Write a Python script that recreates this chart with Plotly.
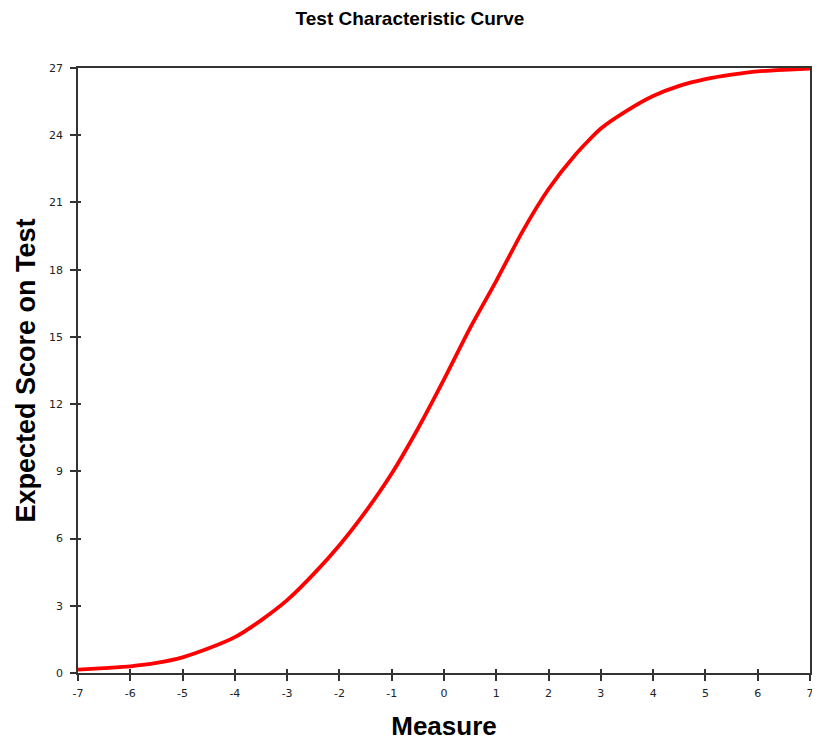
import plotly.graph_objects as go

measure = [-7, -6.5, -6, -5.5, -5, -4.5, -4, -3.5, -3, -2.5, -2, -1.5, -1, -0.5,
           0, 0.5, 1, 1.5, 2, 2.5, 3, 3.5, 4, 4.5, 5, 5.5, 6, 6.5, 7]
expected = [0.15, 0.22, 0.3, 0.45, 0.7, 1.1, 1.6, 2.35, 3.25, 4.4, 5.7, 7.2, 8.9, 10.9,
            13.1, 15.4, 17.5, 19.7, 21.6, 23.1, 24.3, 25.1, 25.75, 26.2, 26.5, 26.7, 26.85, 26.92, 26.97]
x_ticks = list(range(-7, 8))
x_labels = [str(v) for v in x_ticks]
y_ticks = list(range(0, 28, 3))

FONT = "Liberation Sans, Arial, sans-serif"
TICKFONT = "DejaVu Sans, Verdana, sans-serif"

W = 804
H = 733

fig = go.Figure()
fig.add_trace(go.Scatter(x=measure, y=expected, mode="lines",
                         line=dict(color="#ff0000", width=3.8, shape="spline", smoothing=0.6),
                         showlegend=False, hoverinfo="skip", cliponaxis=False))
# invisible trace on overlay axes to draw inward tick halves
fig.add_trace(go.Scatter(x=[-7, 7], y=[0, 27], xaxis="x2", yaxis="y2", mode="markers",
                         marker=dict(opacity=0), showlegend=False, hoverinfo="skip"))

axis_common = dict(showgrid=False, zeroline=False, linecolor="#333333", linewidth=1.5, automargin=False,
                   tickcolor="#333333", tickwidth=1.5, ticklabeloverflow="allow",
                   tickfont=dict(family=TICKFONT, size=11, color="#222222"))

fig.update_layout(
    width=W, height=H,
    paper_bgcolor="white", plot_bgcolor="white",
    margin=dict(l=70, r=2, t=60, b=68),
    title=dict(text="<b>Test Characteristic Curve</b>", x=0.5, xanchor="center",
               y=1 - 10 / H, yanchor="middle",
               font=dict(family=FONT, size=19, color="#000000")),
    xaxis=dict(range=[-7, 7], tickvals=x_ticks, ticktext=x_labels, ticks="outside", ticklen=6,
               showline=True, mirror=True, ticklabelstandoff=3,
               title=dict(text="<b>Measure</b>", font=dict(family=FONT, size=26, color="#000000"), standoff=24),
               **axis_common),
    yaxis=dict(range=[0, 27], tickvals=y_ticks, ticks="outside", ticklen=6, showline=True, mirror=True,
               ticklabelstandoff=5,
               title=dict(text="<b>Expected Score on Test</b>", font=dict(family=FONT, size=27, color="#000000"), standoff=6),
               **axis_common),
    xaxis2=dict(range=[-7, 7], tickvals=x_ticks, ticks="inside", ticklen=4, overlaying="x", anchor="y2",
                side="bottom", showticklabels=False, showline=False, showgrid=False, zeroline=False,
                tickcolor="#333333", tickwidth=1.5, automargin=False),
    yaxis2=dict(range=[0, 27], tickvals=y_ticks, ticks="inside", ticklen=3, overlaying="y", anchor="x2",
                side="left", showticklabels=False, showline=False, showgrid=False, zeroline=False,
                tickcolor="#333333", tickwidth=1.5, automargin=False),
)

fig.write_html("out.html")
